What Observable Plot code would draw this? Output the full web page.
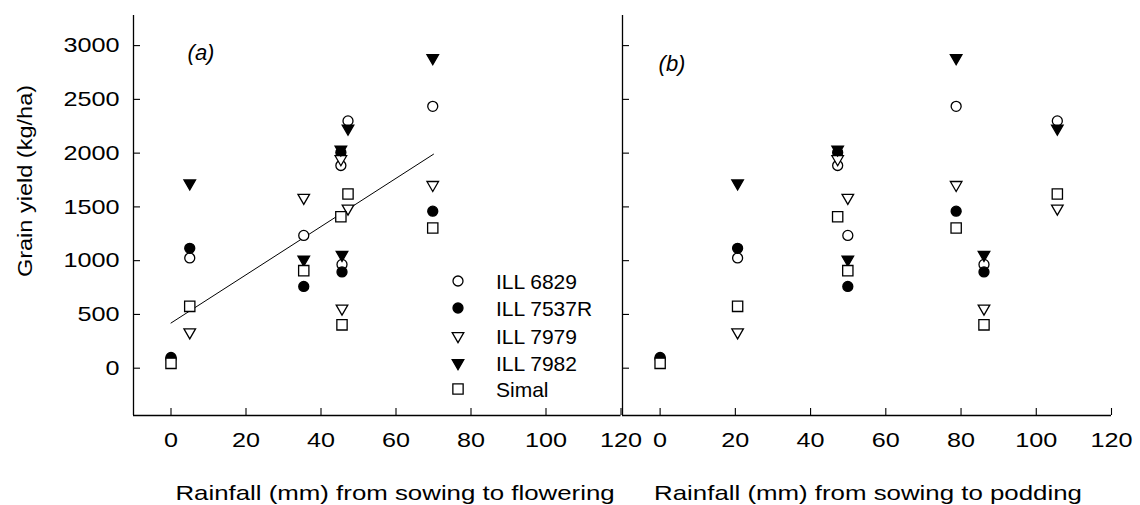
<!DOCTYPE html>
<html><head><meta charset="utf-8">
<script src="https://cdn.jsdelivr.net/npm/d3@7"></script>
<script src="https://cdn.jsdelivr.net/npm/@observablehq/plot@0.6"></script>
<style>
body{margin:0;background:#fff;font-family:"Liberation Sans",Arial,sans-serif;}
#wrap{position:relative;width:1140px;height:505px;overflow:hidden;background:#fff;}
#wrap > svg{position:absolute;top:0;}
.t{position:absolute;white-space:nowrap;color:#000;line-height:1;}
</style></head><body>
<div id="wrap"></div>
<script>
// ---- data ----
const cultivars = ["ILL 6829", "ILL 7537R", "ILL 7979", "ILL 7982", "Simal"];
// seven environments: rainfall sowing->flowering (panel a) and sowing->podding (panel b)
const rainFlowering = [0, 5, 35.4, 45.3, 45.6, 47.2, 69.8];
const rainPodding   = [0, 20.6, 49.9, 47.2, 86.1, 105.6, 78.7];
const yield6829  = [90, 1025, 1235, 1885, 965, 2300, 2435];
const yield7537R = [100, 1115, 760, 2005, 895, null, 1460];
const yield7979  = [null, 335, 1585, 1945, 555, 1485, 1705];
const yield7982  = [null, 1720, 1010, 2035, 1055, 2230, 2885];
const yieldSimal = [45, 575, 907, 1408, 403, 1620, 1304];
const fitX = [0, 70];
const fitY = [420, 1990];
const xTicks = [0, 20, 40, 60, 80, 100, 120];
const yTicks = [0, 500, 1000, 1500, 2000, 2500, 3000];
const xTitles = ["Rainfall (mm) from sowing to flowering", "Rainfall (mm) from sowing to podding"];
const yTitle = "Grain yield (kg/ha)";
const panelLabels = ["(a)", "(b)"];

// ---- layout ----
const H = 505;
const xDomain = [-10, 120];
const yDomain = [-440, 3280];
const series = [yield6829, yield7537R, yield7979, yield7982, yieldSimal];
const styles = [
  {symbol: "circle", r: 5, fill: "white", rotate: 0},
  {symbol: "circle", r: 5, fill: "black", rotate: 0},
  {symbol: "triangle", r: 4.3, fill: "white", rotate: 180},
  {symbol: "triangle", r: 4.3, fill: "black", rotate: 180},
  {symbol: "square", r: 5.8, fill: "white", rotate: 0}
];

function rows(xs) {
  const out = [];
  cultivars.forEach((c, i) => series[i].forEach((v, j) => {
    if (v != null) out.push({cultivar: c, x: xs[j], y: v});
  }));
  return out;
}

function panel({xs, width, marginLeft, marginRight, labels, fit}) {
  const data = rows(xs);
  const marks = [
    Plot.ruleX([xDomain[0]], {y1: yDomain[0], y2: yDomain[1], stroke: "black", strokeWidth: 1.3}),
    Plot.ruleY([yDomain[0]], {x1: xDomain[0], x2: xDomain[1], stroke: "black", strokeWidth: 1.3}),
    Plot.axisX({ticks: xTicks, tickSize: -7, tickPadding: 24, label: null, tickFormat: d => String(d), strokeWidth: 1.1}),
    Plot.axisY({ticks: yTicks, tickSize: -7, tickPadding: 21, label: null,
      tickFormat: labels ? (d => String(d)) : (() => ""), strokeWidth: 1.1})
  ];
  if (fit) marks.push(Plot.line(fitX.map((x, i) => ({x, y: fitY[i]})), {x: "x", y: "y", stroke: "black", strokeWidth: 1}));
  cultivars.forEach((c, i) => {
    const s = styles[i];
    marks.push(Plot.dot(data.filter(d => d.cultivar === c), {
      x: "x", y: "y", symbol: s.symbol, r: s.r, fill: s.fill, stroke: "black",
      strokeWidth: 1.3, rotate: s.rotate
    }));
  });
  return Plot.plot({
    width, height: H, marginTop: 15, marginBottom: 90, marginLeft, marginRight,
    x: {domain: xDomain}, y: {domain: yDomain},
    style: {fontSize: "21px", fontFamily: "Liberation Sans, Arial, sans-serif", color: "black",
      background: "transparent", overflow: "visible"},
    marks
  });
}

function stretch(svg, k) {
  svg.querySelectorAll('g[aria-label$="tick label"] text').forEach(t => {
    const w = t.getComputedTextLength();
    if (w > 0) {
      t.setAttribute("textLength", (w * k).toFixed(1));
      t.setAttribute("lengthAdjust", "spacingAndGlyphs");
    }
  });
}

const wrap = document.getElementById("wrap");
const pa = panel({xs: rainFlowering, width: 622, marginLeft: 133, marginRight: 1.5, labels: true, fit: true});
pa.style.left = "0px";
wrap.appendChild(pa);
const pb = panel({xs: rainPodding, width: 519, marginLeft: 1, marginRight: 29, labels: false, fit: false});
pb.style.left = "621px";
wrap.appendChild(pb);
stretch(pa, 1.2);
stretch(pb, 1.2);

function addText(txt, x, y, css, tf) {
  const d = document.createElement("div");
  d.className = "t";
  d.textContent = txt;
  d.style.left = x + "px";
  d.style.top = y + "px";
  Object.assign(d.style, css);
  d.style.transform = "translate(-50%,-50%) " + (tf || "");
  wrap.appendChild(d);
  return d;
}
addText(xTitles[0], 394.5, 492, {fontSize: "21px"}, "scaleX(1.23)");
addText(xTitles[1], 868, 492, {fontSize: "21px"}, "scaleX(1.23)");
addText(yTitle, 24, 181, {fontSize: "21px"}, "rotate(-90deg) scaleX(1.12)");
addText(panelLabels[0], 201, 53, {fontSize: "22px", fontStyle: "italic"});
addText(panelLabels[1], 672, 64, {fontSize: "22px", fontStyle: "italic"});

// legend (inside panel a)
const legY = [281, 308, 336, 363, 389];
cultivars.forEach((c, i) => {
  const s = styles[i];
  const ns = "http://www.w3.org/2000/svg";
  const svg = document.createElementNS(ns, "svg");
  svg.setAttribute("width", 20); svg.setAttribute("height", 20);
  svg.style.position = "absolute";
  svg.style.left = (458 - 10) + "px";
  svg.style.top = (legY[i] - 10) + "px";
  const p = document.createElementNS(ns, "path");
  const sym = {circle: d3.symbolCircle, triangle: d3.symbolTriangle, square: d3.symbolSquare}[s.symbol];
  p.setAttribute("d", d3.symbol(sym, Math.PI * s.r * s.r)());
  p.setAttribute("transform", `translate(10,10) rotate(${s.rotate})`);
  p.setAttribute("fill", s.fill); p.setAttribute("stroke", "black"); p.setAttribute("stroke-width", 1.3);
  svg.appendChild(p);
  wrap.appendChild(svg);
  const d = document.createElement("div");
  d.className = "t";
  d.textContent = c;
  d.style.fontSize = "21px";
  d.style.left = "496px";
  d.style.top = legY[i] + "px";
  d.style.transform = "translate(0,-50%)";
  wrap.appendChild(d);
});
</script>
</body></html>
